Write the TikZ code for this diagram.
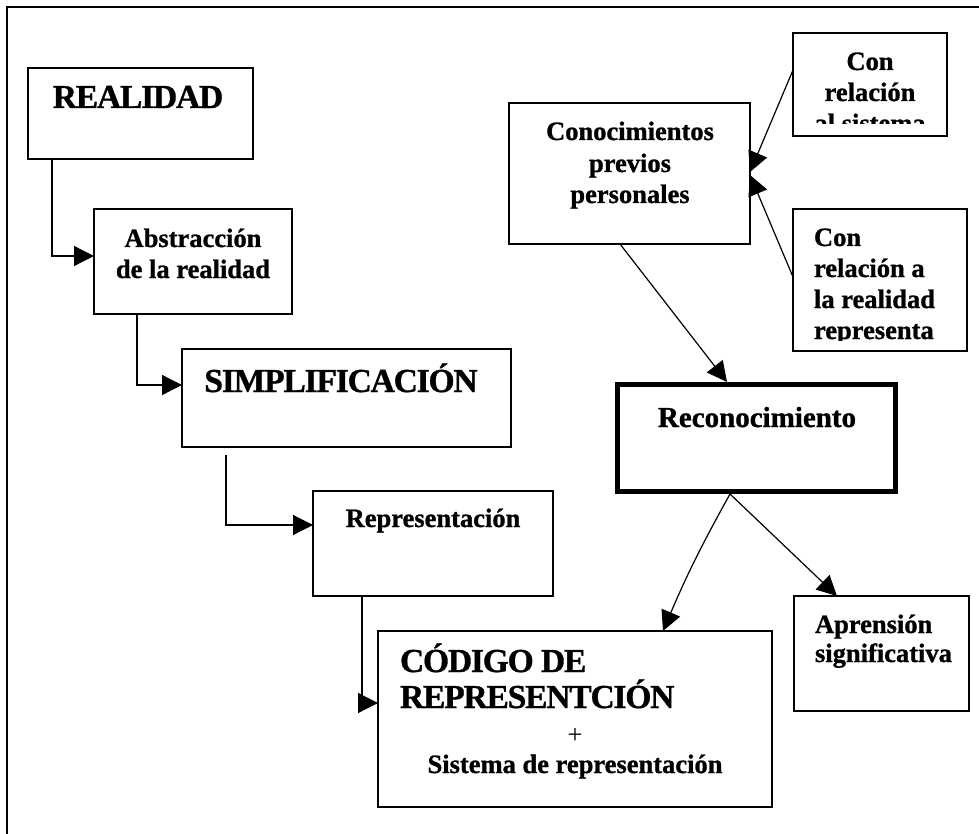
\documentclass[tikz,border=0pt]{standalone}
\usepackage{fontspec}
\setmainfont{Liberation Serif}[BoldFeatures={FakeBold=1.0}]
\newfontfamily\condfont{Liberation Serif}[LetterSpace=-3.5,BoldFeatures={FakeBold=1.0}]
\usetikzlibrary{arrows.meta}
\begin{document}
\begin{tikzpicture}[x=1pt,y=-1pt,inner sep=0pt,outer sep=0pt,
  box/.style={draw,line width=1.4pt,anchor=north west},
  conn/.style={line width=1.2pt,-{Triangle[length=20pt,width=20pt]}},
  big/.style={font=\condfont\fontsize{33.5}{38}\selectfont\bfseries},
  txt/.style={font=\fontsize{26.5}{31}\selectfont\bfseries},
  plain/.style={font=\fontsize{26.5}{31}\selectfont}]
\useasboundingbox (0,0) rectangle (979,834);
\fill[white] (0,0) rectangle (979,834);
% frame
\draw[line width=2pt] (7,834) -- (7,7) -- (979,7);
% boxes
\node[box,minimum width=225pt,minimum height=91pt] (real) at (28,68) {};
\node[box,minimum width=198pt,minimum height=105pt] (abs) at (94,209) {};
\node[box,minimum width=329pt,minimum height=98pt] (simp) at (182,349) {};
\node[box,minimum width=240pt,minimum height=105pt] (rep) at (313,491) {};
\node[box,minimum width=394pt,minimum height=176pt] (cod) at (378,631) {};
\node[box,minimum width=241pt,minimum height=141pt] (con) at (509,103) {};
\node[box,minimum width=154pt,minimum height=103pt] (sis) at (793,33) {};
\node[box,minimum width=174pt,minimum height=142pt] (rr) at (793,209) {};
\node[box,line width=5.5pt,minimum width=278pt,minimum height=107pt] (rec) at (617.5,384.5) {};
\node[box,minimum width=175pt,minimum height=115pt] (apr) at (794,596) {};
% texts
\node[big,anchor=base] (t1) at (138,108) {REALIDAD};
\node[txt,anchor=base] (t2a) at (193,247) {Abstracción};
\node[txt,anchor=base] (t2b) at (193,278) {de la realidad};
\node[big,anchor=base] (t3) at (341,392) {SIMPLIFICACIÓN};
\node[txt,anchor=base] (t4) at (433,527) {Representación};
\node[big,anchor=base west] (t5a) at (400,672) {CÓDIGO DE};
\node[big,anchor=base west] (t5b) at (400,708) {REPRESENTCIÓN};
\node[plain,anchor=base] (t5c) at (575,743) {+};
\node[txt,anchor=base] (t5d) at (575,773) {Sistema de representación};
\node[txt,anchor=base] (t6a) at (630,140) {Conocimientos};
\node[txt,anchor=base] (t6b) at (630,172) {previos};
\node[txt,anchor=base] (t6c) at (630,203) {personales};
\begin{scope}
\clip (793,33) rectangle (947,124);
\node[txt,anchor=base] (t7a) at (870,70) {Con};
\node[txt,anchor=base] (t7b) at (870,101) {relación};
\node[txt,anchor=base] (t7c) at (870,132) {al sistema};
\end{scope}
\begin{scope}
\clip (793,209) rectangle (967,340);
\node[txt,anchor=base west] (t8a) at (814,246) {Con};
\node[txt,anchor=base west] (t8b) at (814,277) {relación a};
\node[txt,anchor=base west] (t8c) at (814,308) {la realidad};
\node[txt,anchor=base west] (t8d) at (814,339) {representa};
\end{scope}
\node[font=\fontsize{29}{34}\selectfont\bfseries,anchor=base] (t9) at (757,427) {Reconocimiento};
\node[txt,anchor=base west] (t10a) at (815,633) {Aprensión};
\node[txt,anchor=base west] (t10b) at (815,662) {significativa};
% connectors
\draw[conn] ([xshift=-88.5pt]real.south) |- ([yshift=5.5pt]abs.west);
\draw[conn] ([xshift=-56pt]abs.south) |- ([yshift=13pt]simp.west);
\draw[conn] ([xshift=-120.5pt,yshift=-8pt]simp.south) |- ([yshift=18.5pt]rep.west);
\draw[conn] ([xshift=-71pt]rep.south) |- ([yshift=16pt]cod.west);
\draw[conn] ([yshift=14.5pt]sis.west) -- ([yshift=1.5pt]con.east);
\draw[conn] ([yshift=3pt]rr.west) -- ([yshift=-1.5pt]con.east);
\draw[conn] ([xshift=-9.5pt]con.south) -- ([xshift=-29.5pt,yshift=2.5pt]rec.north);
\draw[conn] ([xshift=-26.5pt,yshift=-2.5pt]rec.south) to[bend right=3] ([xshift=88pt]cod.north);
\draw[conn] ([xshift=-26.5pt,yshift=-2.5pt]rec.south) -- ([xshift=-44.5pt]apr.north);
\end{tikzpicture}
\end{document}
